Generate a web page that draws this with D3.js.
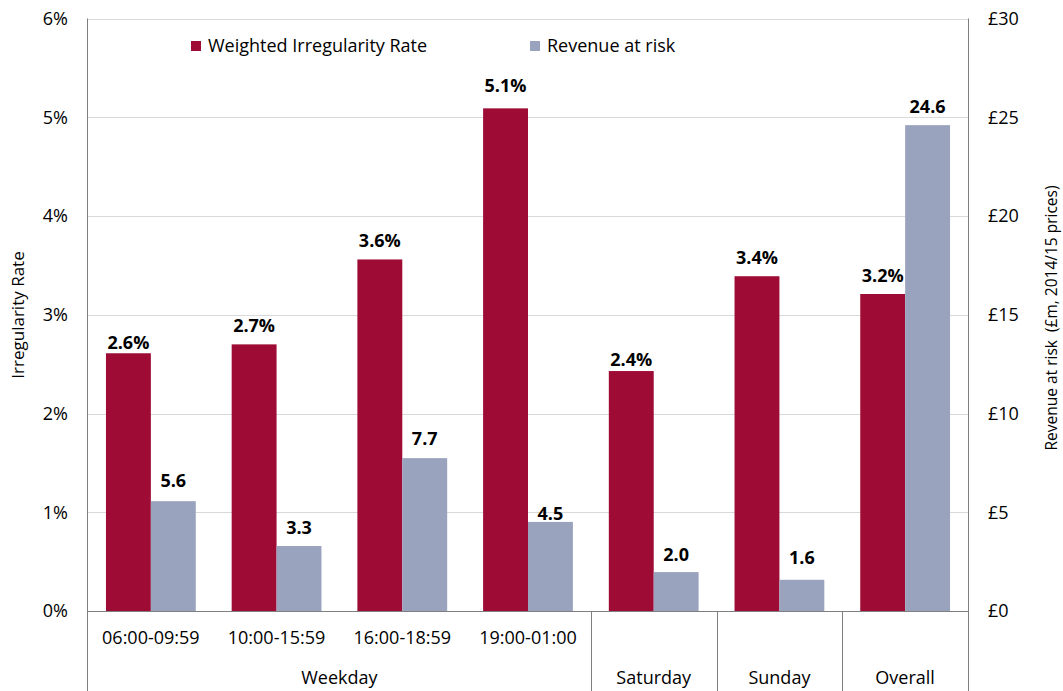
<!DOCTYPE html>
<html>
<head>
<meta charset="utf-8">
<script src="https://cdn.jsdelivr.net/npm/d3@7"></script>
<style>
  html, body { margin: 0; padding: 0; background: #fff; }
  svg { display: block; font-family: "Open Sans", sans-serif; }
</style>
</head>
<body>
<svg id="chart" width="1063" height="691"></svg>
<script>
// Time bands and their day groups
const categories = ["06:00-09:59", "10:00-15:59", "16:00-18:59", "19:00-01:00", "Saturday", "Sunday", "Overall"];
const subLabels = ["06:00-09:59", "10:00-15:59", "16:00-18:59", "19:00-01:00", "", "", ""];
const groups = [
  { name: "Weekday", from: 0, to: 3 },
  { name: "Saturday", from: 4, to: 4 },
  { name: "Sunday", from: 5, to: 5 },
  { name: "Overall", from: 6, to: 6 }
];

// Series values
const irregularityRate = [2.61, 2.70, 3.56, 5.09, 2.43, 3.39, 3.21];   // %
const revenueAtRisk = [5.56, 3.29, 7.74, 4.51, 1.97, 1.58, 24.6];       // £m

// Axis ticks
const rateTicks = [0, 1, 2, 3, 4, 5, 6];
const revenueTicks = [0, 5, 10, 15, 20, 25, 30];

const seriesNames = ["Weighted Irregularity Rate", "Revenue at risk"];
const colors = ["#9E0B35", "#99A3BE"];

// Hand-placed gap (px) between each value label and the top of its bar
const rateLabelLift = [4, 12, 12, 16.5, 5, 12, 12];
const revenueLabelLift = [14, 12, 13, 1.5, 11.5, 15.5, 12];

const svg = d3.select("#chart");
const W = 1063, H = 691;
const m = { left: 88, right: 968, top: 18.5, base: 611, bottom: 691 };

const x0 = d3.scaleBand().domain(d3.range(categories.length)).range([m.left, m.right]).padding(0);
const x1 = d3.scaleBand().domain([0, 1]).range([0, x0.bandwidth()]).paddingInner(0).paddingOuter(0.4);
const yRate = d3.scaleLinear().domain([0, 6]).range([m.base, m.top]);
const yRev = d3.scaleLinear().domain([0, 30]).range([m.base, m.top]);

svg.append("rect").attr("width", W).attr("height", H).attr("fill", "#fff");

// Gridlines
svg.append("g").selectAll("line").data(rateTicks.filter(d => d > 0)).join("line")
  .attr("x1", m.left).attr("x2", m.right)
  .attr("y1", d => Math.round(yRate(d)) + 0.5).attr("y2", d => Math.round(yRate(d)) + 0.5)
  .attr("stroke", "#D9D9D9").attr("stroke-width", 1);

// Left axis
const leftAxis = d3.axisLeft(yRate).tickValues(rateTicks).tickFormat(d => d + "%").tickSize(0).tickPadding(20);
const gl = svg.append("g").attr("transform", `translate(${m.left},0)`).call(leftAxis);
gl.select(".domain").remove();
gl.selectAll("text").attr("font-size", 18).attr("fill", "#000").attr("font-family", "Open Sans");

// Right axis
const rightAxis = d3.axisRight(yRev).tickValues(revenueTicks).tickFormat(d => "£" + d).tickSize(0).tickPadding(20);
const gr = svg.append("g").attr("transform", `translate(${m.right},0)`).call(rightAxis);
gr.select(".domain").remove();
gr.selectAll("text").attr("font-size", 18).attr("fill", "#000").attr("font-family", "Open Sans");

// Bars
const cat = svg.append("g").selectAll("g").data(categories.map((c, i) => i)).join("g")
  .attr("transform", i => `translate(${x0(i)},0)`);

cat.append("rect")
  .attr("x", x1(0)).attr("width", x1.bandwidth())
  .attr("y", i => yRate(irregularityRate[i]))
  .attr("height", i => m.base - yRate(irregularityRate[i]))
  .attr("fill", colors[0]);

cat.append("rect")
  .attr("x", x1(1)).attr("width", x1.bandwidth())
  .attr("y", i => yRev(revenueAtRisk[i]))
  .attr("height", i => m.base - yRev(revenueAtRisk[i]))
  .attr("fill", colors[1]);

// Value labels
cat.append("text")
  .attr("x", x1(0) + x1.bandwidth() / 2)
  .attr("y", i => yRate(irregularityRate[i]) - rateLabelLift[i])
  .attr("text-anchor", "middle").attr("font-size", 18).attr("font-weight", "bold")
  .text(i => irregularityRate[i].toFixed(1) + "%");

cat.append("text")
  .attr("x", x1(1) + x1.bandwidth() / 2)
  .attr("y", i => yRev(revenueAtRisk[i]) - revenueLabelLift[i])
  .attr("text-anchor", "middle").attr("font-size", 18).attr("font-weight", "bold")
  .text(i => revenueAtRisk[i].toFixed(1));

// Axis frame lines
const lineColor = "#7F7F7F";
svg.append("line").attr("x1", m.left - 0.5).attr("x2", m.left - 0.5).attr("y1", m.top).attr("y2", m.bottom)
  .attr("stroke", lineColor);
svg.append("line").attr("x1", m.right + 0.5).attr("x2", m.right + 0.5).attr("y1", m.top).attr("y2", m.bottom)
  .attr("stroke", lineColor);
svg.append("line").attr("x1", m.left).attr("x2", m.right).attr("y1", m.base + 0.5).attr("y2", m.base + 0.5)
  .attr("stroke", lineColor);

// Group separators on the category axis
groups.slice(1).forEach(g => {
  const xs = Math.round(x0(g.from)) + 0.5;
  svg.append("line").attr("x1", xs).attr("x2", xs).attr("y1", m.base).attr("y2", m.bottom).attr("stroke", lineColor);
});

// Category labels
svg.append("g").selectAll("text").data(subLabels.map((s, i) => [s, i]).filter(d => d[0])).join("text")
  .attr("x", d => x0(d[1]) + x0.bandwidth() / 2).attr("y", 644)
  .attr("text-anchor", "middle").attr("font-size", 18).text(d => d[0]);

svg.append("g").selectAll("text").data(groups).join("text")
  .attr("x", g => (x0(g.from) + x0(g.to) + x0.bandwidth()) / 2).attr("y", 684)
  .attr("text-anchor", "middle").attr("font-size", 18).text(g => g.name);

// Axis titles
svg.append("text").attr("transform", "translate(24,315) rotate(-90)")
  .attr("text-anchor", "middle").attr("font-size", 17).text("Irregularity Rate");
svg.append("text").attr("transform", "translate(1057,318) rotate(-90)")
  .attr("text-anchor", "middle").attr("font-size", 15.5).attr("xml:space", "preserve")
  .text("Revenue at risk  (£m, 2014/15 prices)");

// Legend
const legendX = [191, 530];
const leg = svg.append("g").selectAll("g").data(seriesNames).join("g")
  .attr("transform", (d, i) => `translate(${legendX[i]},41)`);
leg.append("rect").attr("width", 10).attr("height", 10).attr("fill", (d, i) => colors[i]);
leg.append("text").attr("x", 17).attr("y", 11).attr("font-size", 18).text(d => d);
</script>
</body>
</html>
